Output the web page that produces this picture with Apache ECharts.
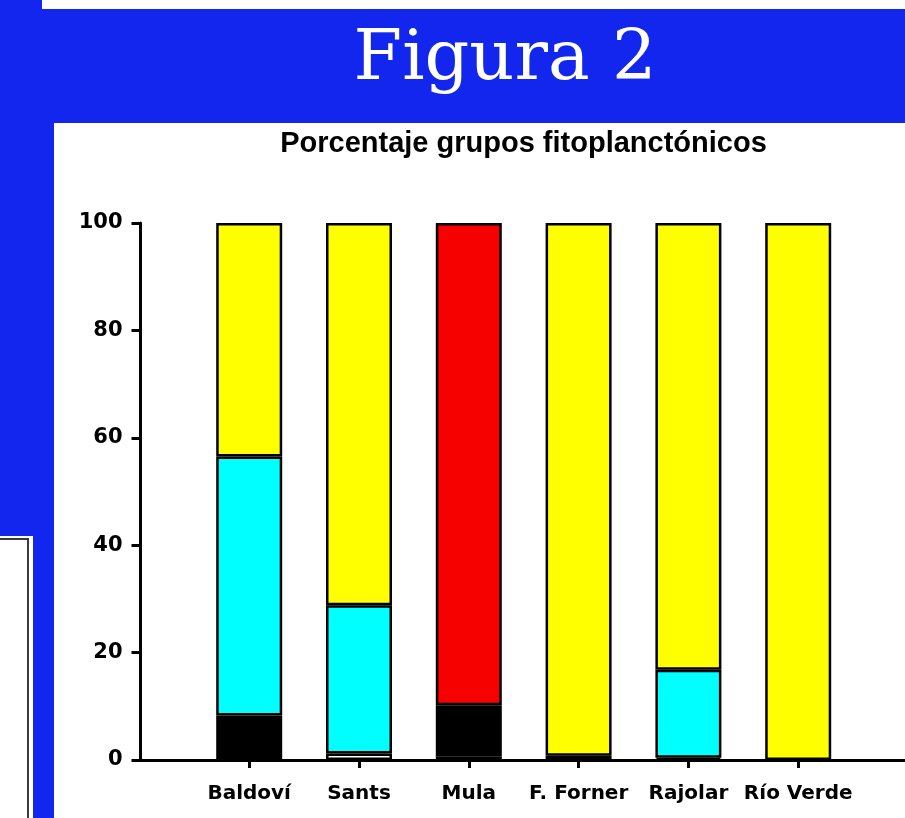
<!DOCTYPE html>
<html>
<head>
<meta charset="utf-8">
<script src="https://cdn.jsdelivr.net/npm/echarts@6/dist/echarts.min.js"></script>
<style>
  html, body { margin: 0; padding: 0; background: #1226EE; }
  #chart { width: 905px; height: 818px; }
</style>
</head>
<body>
<div id="chart"></div>
<script>
// ---- Data ----
const categories = ['Baldoví', 'Sants', 'Mula', 'F. Forner', 'Rajolar', 'Río Verde'];
const seriesNames = ['Grupo 1', 'Grupo 2', 'Grupo 3', 'Grupo 4', 'Grupo 5'];
const whiteVals  = ['-', 1.2, 0.7, '-', '-', '-'];
const blackVals  = [8.3, '-', 9.5, '-', 0.4, '-'];
const cyanVals   = [48.2, 27.6, '-', 0.8, 16.4, '-'];
const redVals    = ['-', '-', 89.8, '-', '-', '-'];
const yellowVals = [43.5, 71.2, '-', 99.2, 83.2, 100];
const yTicks = { min: 0, max: 100, interval: 20 };
const mainTitle = 'Figura 2';
const subTitle = 'Porcentaje grupos fitoplanctónicos';

const colors = ['#FFFFFF', '#000000', '#00FFFF', '#F70000', '#FFFF00'];
const valueSets = [whiteVals, blackVals, cyanVals, redVals, yellowVals];

const chart = echarts.init(document.getElementById('chart'), null, { renderer: 'canvas' });

const gridTop = 223, gridBottom = 58;

const series = valueSets.map((vals, i) => ({
  name: seriesNames[i],
  type: 'bar',
  stack: 'total',
  xAxisIndex: 0,
  yAxisIndex: 0,
  barWidth: 66,
  data: vals,
  itemStyle: { color: colors[i], borderColor: '#000', borderWidth: 2.5 },
  z: 3
}));

const option = {
  backgroundColor: '#1226EE',
  animation: false,
  graphic: [
    { type: 'rect', z: -10, shape: { x: 42, y: 0, width: 863, height: 9 }, style: { fill: '#fff' } },
    { type: 'rect', z: -10, shape: { x: 54, y: 123, width: 851, height: 695 }, style: { fill: '#fff' } },
    { type: 'rect', z: -10, shape: { x: 0, y: 536, width: 33, height: 282 }, style: { fill: '#fff' } },
    { type: 'polyline', z: -9, shape: { points: [[0, 539], [28, 539], [28, 818]] }, style: { stroke: '#3c3c3c', lineWidth: 2, fill: null } },
    { type: 'text', z: 10, x: 505, y: 61, style: { text: mainTitle, fill: '#fff', font: '70px "DejaVu Serif"', align: 'center', verticalAlign: 'middle' } },
    { type: 'text', z: 10, x: 523.5, y: 144, style: { text: subTitle, fill: '#000', font: 'bold 29px "Liberation Sans", Arial', align: 'center', verticalAlign: 'middle' } }
  ],
  grid: [
    { left: 194.3, right: 51.9, top: gridTop, bottom: gridBottom },
    { left: 140.5, right: 0, top: gridTop, bottom: gridBottom }
  ],
  xAxis: [
    {
      type: 'category', gridIndex: 0, data: categories,
      axisLine: { show: false },
      axisTick: { show: true, alignWithLabel: true, length: 8, lineStyle: { color: '#000', width: 3 } },
      axisLabel: { color: '#000', fontFamily: 'DejaVu Sans', fontWeight: 'bold', fontSize: 20, margin: 24, interval: 0 },
      splitLine: { show: false }
    },
    {
      type: 'value', gridIndex: 1, min: 0, max: 1,
      axisLine: { show: true, onZero: false, lineStyle: { color: '#000', width: 3 } },
      axisTick: { show: false }, axisLabel: { show: false }, splitLine: { show: false }
    }
  ],
  yAxis: [
    {
      type: 'value', gridIndex: 0, min: yTicks.min, max: yTicks.max, interval: yTicks.interval,
      offset: 53.8,
      axisLine: { show: true, lineStyle: { color: '#000', width: 3 } },
      axisTick: { show: true, length: 9, lineStyle: { color: '#000', width: 3 } },
      axisLabel: { color: '#000', fontFamily: 'DejaVu Sans', fontWeight: 'bold', fontSize: 21, margin: 18 },
      splitLine: { show: false }
    },
    { type: 'value', gridIndex: 1, show: false, min: 0, max: 1 }
  ],
  series: series
};

chart.setOption(option);
</script>
</body>
</html>
